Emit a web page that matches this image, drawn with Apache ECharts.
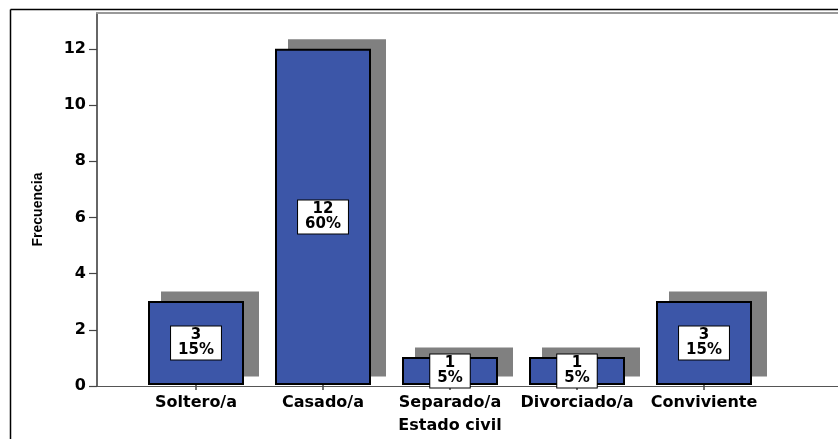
<!DOCTYPE html>
<html>
<head>
<meta charset="utf-8">
<script src="https://cdn.jsdelivr.net/npm/echarts@6/dist/echarts.min.js"></script>
<style>
html,body{margin:0;padding:0;background:#fff;}
#chart{width:838px;height:439px;}
</style>
</head>
<body>
<div id="chart"></div>
<script>
const categories = ['Soltero/a', 'Casado/a', 'Separado/a', 'Divorciado/a', 'Conviviente'];
const frequencies = [3, 12, 1, 1, 3];
const percents = ['15%', '60%', '5%', '5%', '15%'];
const yTicks = [0, 2, 4, 6, 8, 10, 12];
const yMax = 13.28;

const chart = echarts.init(document.getElementById('chart'), null, {renderer: 'canvas'});
const tickFont = {fontFamily: 'DejaVu Sans', fontWeight: 'bold', fontSize: 16, color: '#000'};

const option = {
  animation: false,
  backgroundColor: '#fff',
  graphic: [
    {type: 'line', shape: {x1: 10.5, y1: 9.5, x2: 838, y2: 9.5}, style: {stroke: '#000', lineWidth: 1.5}, z: 10},
    {type: 'line', shape: {x1: 10.5, y1: 9.5, x2: 10.5, y2: 439}, style: {stroke: '#000', lineWidth: 1.5}, z: 10}
  ],
  grid: [
    {left: 97, right: 0, top: 13, bottom: 53, containLabel: false},
    {left: 132.5, right: 70.5, top: 13, bottom: 53, containLabel: false}
  ],
  xAxis: [
    {gridIndex: 0, type: 'category', data: [''], position: 'bottom',
     axisLine: {show: true, lineStyle: {color: '#555', width: 1.2}}, axisTick: {show: false}, axisLabel: {show: false}, splitLine: {show: false}},
    {gridIndex: 0, type: 'category', data: [''], position: 'top',
     axisLine: {show: true, lineStyle: {color: '#999', width: 2}}, axisTick: {show: false}, axisLabel: {show: false}, splitLine: {show: false}},
    {gridIndex: 1, type: 'category', data: categories, position: 'bottom',
     axisLine: {show: false},
     axisTick: {show: true, alignWithLabel: true, length: 5, lineStyle: {color: '#444', width: 1.5}},
     axisLabel: Object.assign({interval: 0, margin: 10}, tickFont),
     name: 'Estado civil', nameLocation: 'middle', nameGap: 33,
     nameTextStyle: {fontFamily: 'DejaVu Sans', fontWeight: 'bold', fontSize: 16, color: '#000'},
     splitLine: {show: false}}
  ],
  yAxis: [
    {gridIndex: 0, type: 'value', min: 0, max: yMax, interval: 2,
     axisLine: {show: true, lineStyle: {color: '#666', width: 2}},
     axisTick: {show: true, length: 8, customValues: yTicks, lineStyle: {color: '#444', width: 1.2}},
     axisLabel: Object.assign({margin: 11, customValues: yTicks}, tickFont),
     splitLine: {show: false},
     name: 'Frecuencia', nameLocation: 'middle', nameRotate: 90, nameGap: 52,
     nameTextStyle: {fontFamily: 'Liberation Sans', fontWeight: 'bold', fontSize: 14, color: '#000', padding: [0, 20, 0, 0]}},
    {gridIndex: 1, type: 'value', min: 0, max: yMax, show: false}
  ],
  series: [
    {
      type: 'custom', xAxisIndex: 2, yAxisIndex: 1, z: 1, silent: true,
      data: frequencies.map((v, i) => [i, v]),
      renderItem: function (params, api) {
        const top = api.coord([api.value(0), api.value(1)]);
        const base = api.coord([api.value(0), 0]);
        const w = 98;
        return {
          type: 'rect',
          shape: {x: top[0] - w / 2 + 14, y: top[1] - 1 - 8.5, width: w, height: base[1] - top[1] + 1},
          style: {fill: '#808080'}
        };
      }
    },
    {
      type: 'bar', xAxisIndex: 2, yAxisIndex: 1, z: 2,
      data: frequencies,
      barWidth: 96,
      itemStyle: {color: '#3c56a8', borderColor: '#000', borderWidth: 2},
      label: {
        show: true, position: 'inside',
        formatter: function (p) { return p.value + '\n' + percents[p.dataIndex]; },
        fontFamily: 'DejaVu Sans', fontWeight: 'bold', fontSize: 15, lineHeight: 15,
        color: '#000', backgroundColor: '#fff', borderColor: '#000', borderWidth: 1,
        padding: [2, 7, 1, 7], align: 'center'
      }
    }
  ]
};
chart.setOption(option);
</script>
</body>
</html>
